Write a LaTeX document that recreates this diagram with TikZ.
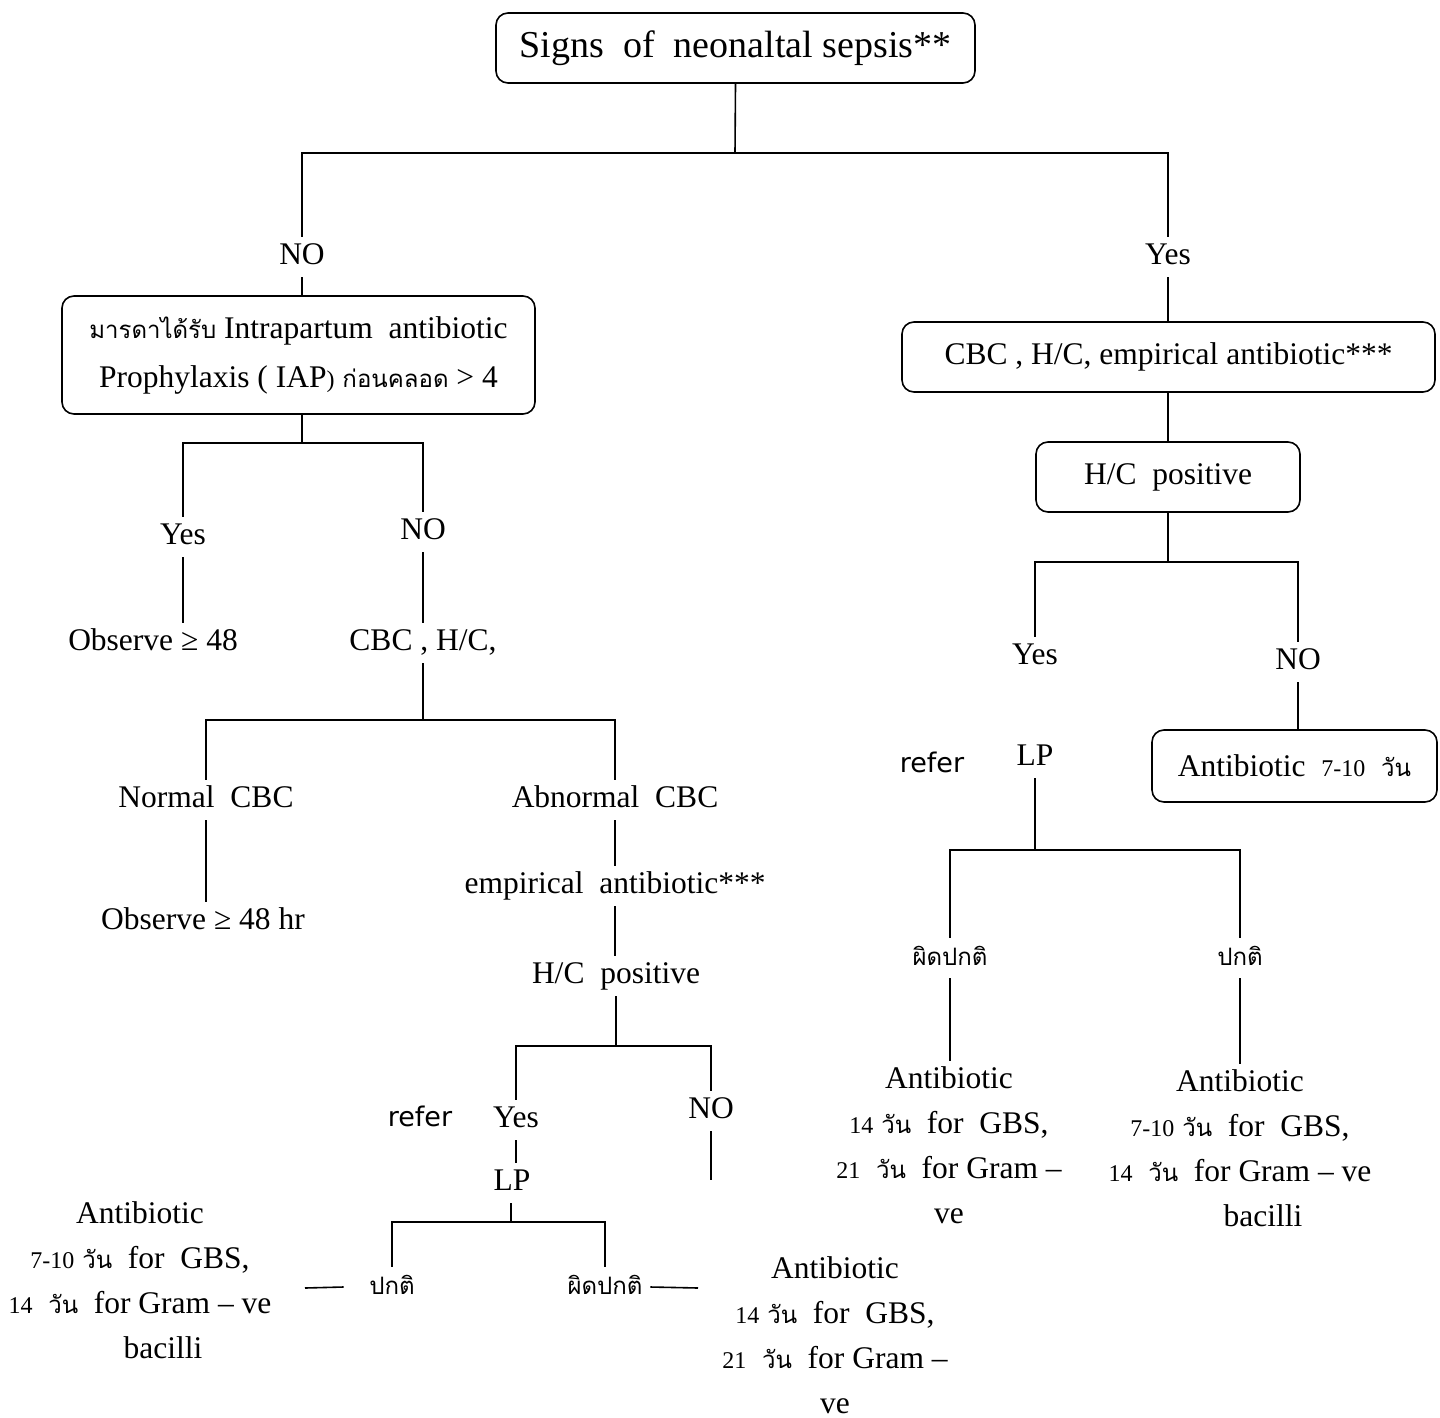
\documentclass[tikz,border=0pt]{standalone}
\usepackage{fontspec}
\setmainfont{Liberation Serif}
\newfontfamily\thaifont[Script=Thai]{Loma}
\newfontfamily\sansf{DejaVu Sans}
\newcommand{\thx}[1]{{\fontsize{24}{28}\thaifont #1}}
\newcommand{\smd}[1]{{\fontsize{24}{28}\selectfont #1}}
\begin{document}
\begin{tikzpicture}[x=1pt,y=-1pt,line width=1.6pt,
  lbl/.style={font=\fontsize{31.5}{38}\selectfont, inner sep=5pt, text height=22pt, text depth=7pt},
  sanslbl/.style={font=\sansf\fontsize{27}{32}\selectfont, inner sep=5pt},
  box/.style={draw, rounded corners=12pt, line width=1.6pt, align=center, inner sep=4pt,
              font=\fontsize{31.5}{38}\selectfont},
  blk/.style={align=center, inner sep=5pt, font=\fontsize{31.5}{45}\selectfont}]
\useasboundingbox (0,0) rectangle (1440,1418);

% top
\node[box, minimum width=479pt, minimum height=70pt, font=\fontsize{38}{44}\selectfont] (top) at (735.5,48) {Signs~ of~ neonaltal sepsis**};
\coordinate (b1) at (735,153);
\draw (top.south) -- (b1);
\node[lbl] (no1) at (302,257) {NO};
\node[lbl] (yes1) at (1168,257) {Yes};
\draw (no1.north) |- (b1) -| (yes1.north);

% left branch
\node[box, minimum width=473pt, minimum height=118pt, font=\fontsize{31.5}{49}\selectfont] (iap) at (298.5,355)
  {\thx{มารดาได้รับ} Intrapartum~ antibiotic\\ Prophylaxis ( IAP\smd{)} \thx{ก่อนคลอด} > 4};
\draw (no1.south) -- (no1.south |- iap.north);
\coordinate (b2) at (302,443);
\draw (b2 |- iap.south) -- (b2);
\node[lbl] (yes2) at (183,537) {Yes};
\node[lbl] (no2) at (423,532) {NO};
\draw (yes2.north) |- (b2) -| (no2.north);
\node[lbl] (obs1) at (153,643) {Observe ≥ 48};
\node[lbl] (cbc1) at (423,643) {CBC , H/C,};
\draw (yes2.south) -- (yes2.south |- obs1.north);
\draw (no2.south) -- (cbc1.north);

\coordinate (b3) at (423,720);
\draw (cbc1.south) -- (b3);
\node[lbl] (ncbc) at (206,800) {Normal~ CBC};
\node[lbl] (acbc) at (615,800) {Abnormal~ CBC};
\draw (ncbc.north) |- (b3) -| (acbc.north);
\node[lbl] (obs2) at (203,922) {Observe ≥ 48 hr};
\draw (ncbc.south) -- (ncbc.south |- obs2.north);
\node[lbl] (emp) at (615,886) {empirical~ antibiotic***};
\draw (acbc.south) -- (emp.north);
\node[lbl] (hc1) at (616,976) {H/C~ positive};
\draw (emp.south) -- (emp.south |- hc1.north);

\coordinate (b4) at (616,1046);
\draw (hc1.south) -- (b4);
\node[lbl] (yes3) at (516,1120) {Yes};
\node[lbl] (no3) at (711,1111) {NO};
\node[sanslbl] (ref1) at (420,1116) {refer};
\draw (yes3.north) |- (b4) -| (no3.north);
\coordinate (no3end) at (711,1180);
\draw (no3.south) -- (no3end);
\node[lbl] (lp1) at (512,1183) {LP};
\draw (yes3.south) -- (yes3.south |- lp1.north);
\coordinate (b5) at (511,1222);
\draw (b5 |- lp1.south) -- (b5);
\node[lbl] (pk1) at (392,1287) {\thx{ปกติ}};
\node[lbl] (pdk1) at (605,1287) {\thx{ผิดปกติ}};
\draw (pk1.north) |- (b5) -| (pdk1.north);

\node[blk] (abL) at (140,1280) {Antibiotic\\ \smd{7-10} \thx{วัน}~ for~ GBS,\\ \smd{14}~ \thx{วัน}~ for Gram – ve\\ \hspace*{46pt}bacilli};
\node[blk] (abB) at (835,1335) {Antibiotic\\ \smd{14} \thx{วัน}~ for~ GBS,\\ \smd{21}~ \thx{วัน}~ for Gram –\\ ve};
\coordinate (c1) at (305,1288);
\coordinate (c2) at (698,1288);
\draw ([xshift=-20pt]pk1.west) -- (c1);
\draw ([xshift=2pt]pdk1.east) -- (c2);

% right branch
\node[box, minimum width=533pt, minimum height=70pt] (emp2) at (1168.5,357) {CBC , H/C, empirical antibiotic***};
\draw (yes1.south) -- (yes1.south |- emp2.north);
\node[box, minimum width=264pt, minimum height=70pt] (hc2) at (1168,477) {H/C~ positive};
\draw (yes1 |- emp2.south) -- (yes1 |- hc2.north);
\coordinate (b6) at (1168,562);
\draw (b6 |- hc2.south) -- (b6);
\node[lbl] (yes4) at (1035,657) {Yes};
\node[lbl] (no4) at (1298,662) {NO};
\draw (yes4.north) |- (b6) -| (no4.north);
\node[box, minimum width=285pt, minimum height=72pt] (ab7) at (1294.5,766) {Antibiotic~ \smd{7-10}~ \thx{วัน}};
\draw (no4.south) -- (no4.south |- ab7.north);
\node[lbl] (lp2) at (1035,758) {LP};
\node[sanslbl] (ref2) at (932,762) {refer};
\coordinate (b7) at (1035,850);
\draw (lp2.south) -- (b7);
\node[lbl] (pdk2) at (950,958) {\thx{ผิดปกติ}};
\node[lbl] (pk2) at (1240,958) {\thx{ปกติ}};
\draw (pdk2.north) |- (b7) -| (pk2.north);
\node[blk] (r1) at (949,1145) {Antibiotic\\ \smd{14} \thx{วัน}~ for~ GBS,\\ \smd{21}~ \thx{วัน}~ for Gram –\\ ve};
\node[blk] (r2) at (1240,1148) {Antibiotic\\ \smd{7-10} \thx{วัน}~ for~ GBS,\\ \smd{14}~ \thx{วัน}~ for Gram – ve\\ \hspace*{46pt}bacilli};
\draw (pdk2.south) -- (pdk2.south |- r1.north);
\draw (pk2.south) -- (pk2.south |- r2.north);
\end{tikzpicture}
\end{document}
